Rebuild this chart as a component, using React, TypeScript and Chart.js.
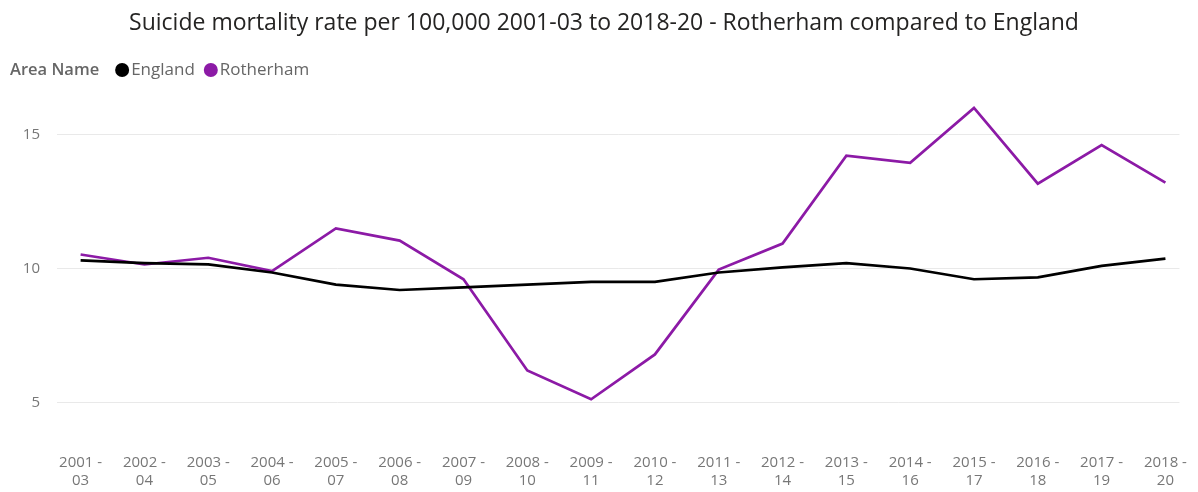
import React, { useEffect, useRef } from "react";
import { Chart, registerables } from "chart.js";

Chart.register(...registerables);

const periods = [
  "2001 - 03", "2002 - 04", "2003 - 05", "2004 - 06", "2005 - 07", "2006 - 08",
  "2007 - 09", "2008 - 10", "2009 - 11", "2010 - 12", "2011 - 13", "2012 - 14",
  "2013 - 15", "2014 - 16", "2015 - 17", "2016 - 18", "2017 - 19", "2018 - 20",
];
const england = [10.3, 10.2, 10.15, 9.85, 9.4, 9.2, 9.3, 9.4, 9.5, 9.5, 9.85, 10.04, 10.2, 10.0, 9.6, 9.67, 10.1, 10.37];
const rotherham = [10.52, 10.15, 10.4, 9.9, 11.49, 11.04, 9.6, 6.2, 5.13, 6.8, 9.96, 10.93, 14.2, 13.94, 15.98, 13.16, 14.6, 13.2];
const yTicks = [5, 10, 15];
const titleText = "Suicide mortality rate per 100,000 2001-03 to 2018-20 - Rotherham compared to England";
const legendTitle = "Area Name";
const seriesNames = ["England", "Rotherham"];
const seriesColors = ["#000000", "#8C1AA6"];

const FONT = "'Open Sans', 'Noto Sans', sans-serif";

const headerPlugin = {
  id: "header",
  afterDraw(chart: any) {
    const ctx = chart.ctx;
    ctx.save();
    ctx.fillStyle = "#252423";
    ctx.font = `23px ${FONT}`;
    ctx.textAlign = "center";
    ctx.textBaseline = "middle";
    ctx.fillText(titleText, 604, 23);

    ctx.textAlign = "left";
    ctx.font = `600 16.5px ${FONT}`;
    ctx.fillStyle = "#666666";
    ctx.fillText(legendTitle, 10, 70);
    let x = 10 + ctx.measureText(legendTitle).width + 16;
    ctx.font = `17px ${FONT}`;
    seriesNames.forEach((name, i) => {
      ctx.fillStyle = seriesColors[i];
      ctx.beginPath();
      ctx.arc(x + 7, 70, 7, 0, Math.PI * 2);
      ctx.fill();
      ctx.fillStyle = "#666666";
      ctx.fillText(name, x + 16, 70);
      x += 16 + ctx.measureText(name).width + 9;
    });
    ctx.restore();
  },
};

export default function App() {
  const ref = useRef<HTMLCanvasElement>(null);
  useEffect(() => {
    if (!ref.current) return;
    const chart = new Chart(ref.current, {
      type: "line",
      data: {
        datasets: [
          {
            label: seriesNames[0],
            data: england.map((v, i) => ({ x: i, y: v })),
            borderColor: seriesColors[0],
            backgroundColor: seriesColors[0],
            borderWidth: 2.7,
            pointRadius: 0,
            tension: 0,
          },
          {
            label: seriesNames[1],
            data: rotherham.map((v, i) => ({ x: i, y: v })),
            borderColor: seriesColors[1],
            backgroundColor: seriesColors[1],
            borderWidth: 2.7,
            pointRadius: 0,
            tension: 0,
          },
        ],
      },
      options: {
        responsive: false,
        animation: false,
        layout: { padding: { top: 94, right: 4, left: 0, bottom: 0 } },
        plugins: {
          legend: { display: false },
          title: { display: false },
          tooltip: { enabled: false },
        },
        scales: {
          x: {
            type: "linear",
            min: -0.37,
            max: 17.22,
            grid: { display: false, drawTicks: false },
            border: { display: false },
            afterBuildTicks: (scale: any) => {
              scale.ticks = periods.map((_, i) => ({ value: i }));
            },
            afterFit: (scale: any) => {
              scale.height = 49;
            },
            ticks: {
              autoSkip: false,
              maxRotation: 0,
              padding: 11,
              color: "#777777",
              font: { family: FONT, size: 15, lineHeight: 1.2 },
              callback: (v: any) => {
                const p = periods[Math.round(Number(v))];
                if (!p) return "";
                const [a, b] = p.split(" - ");
                return [a + " -", b];
              },
            },
          },
          y: {
            min: 3.5,
            max: 16.5,
            grid: { color: "#E9E9E9", drawTicks: false, lineWidth: 1 },
            border: { display: false },
            afterBuildTicks: (scale: any) => {
              scale.ticks = yTicks.map((v) => ({ value: v }));
            },
            afterFit: (scale: any) => {
              scale.width = 57;
            },
            ticks: {
              padding: 17,
              color: "#777777",
              font: { family: FONT, size: 15 },
            },
          },
        },
      },
      plugins: [headerPlugin],
    });
    return () => chart.destroy();
  }, []);
  return (
    <div style={{ position: "absolute", left: 0, top: 0, width: 1198, height: 492, background: "#fff" }}>
      <canvas ref={ref} width={1198} height={492} />
    </div>
  );
}
